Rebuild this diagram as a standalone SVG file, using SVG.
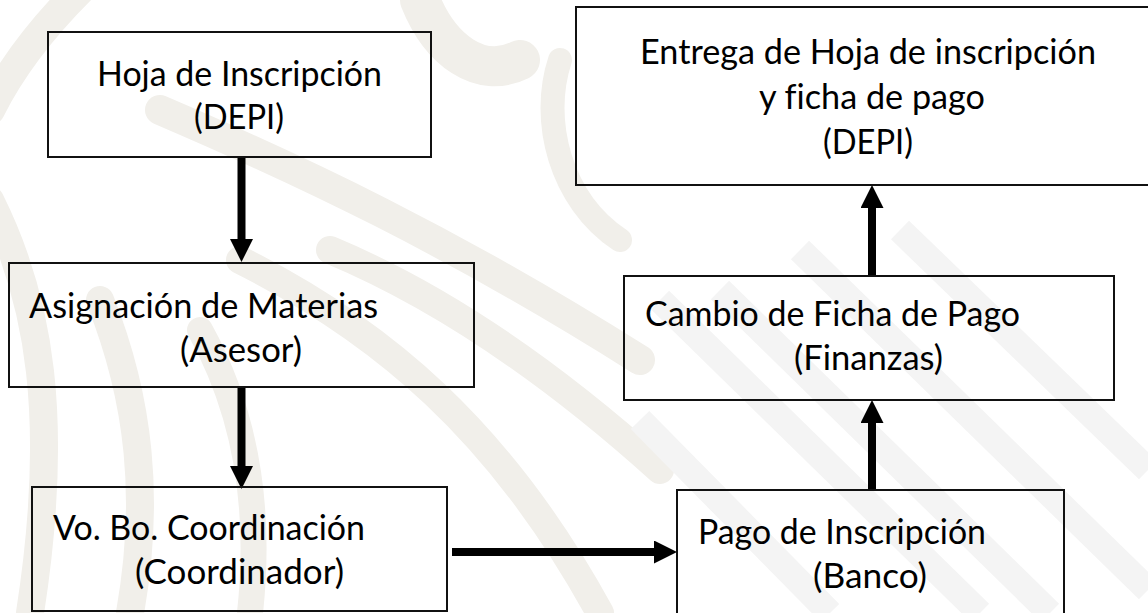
<svg xmlns="http://www.w3.org/2000/svg" width="1148" height="613" viewBox="0 0 1148 613">
<defs>
<style>
.box{fill:none;stroke:#111;stroke-width:2}
.lbl{font-family:Lato,"Open Sans","DejaVu Sans",sans-serif;font-size:34px;fill:#000;font-variant-ligatures:none}
.conn{stroke:#000;stroke-width:8;fill:none}
.wm{fill:none;stroke:#f1efea;stroke-linecap:round}
.wr{fill:none;stroke:#f4f4f4;stroke-width:26}
</style>
<marker id="ah" viewBox="0 0 23 23" refX="0" refY="11.5" markerWidth="23" markerHeight="23" markerUnits="userSpaceOnUse" orient="auto">
<path d="M0,0 L23,11.5 L0,23 Z" fill="#000"/>
</marker>
</defs>
<rect width="1148" height="613" fill="#fff"/>
<g id="watermark">
<path class="wm" stroke-width="30" d="M80,-10 C40,30 10,70 -10,110"/>
<path class="wm" stroke-width="28" d="M-10,200 C40,300 60,420 30,613"/>
<path class="wm" stroke-width="28" d="M100,300 C140,400 150,500 130,613"/>
<path class="wm" stroke-width="26" d="M200,330 C250,420 260,520 250,613"/>
<path class="wm" stroke-width="30" d="M160,110 C300,170 450,240 640,360"/>
<path class="wm" stroke-width="28" d="M240,260 C380,330 500,430 600,613"/>
<path class="wm" stroke-width="28" d="M330,250 C450,300 560,380 660,470"/>
<path class="wm" stroke-width="40" d="M420,0 C440,50 480,80 520,60"/>
<path class="wm" stroke-width="24" d="M560,60 C540,120 560,200 620,240"/>
<path class="wr" d="M660,300 L980,613"/>
<path class="wr" d="M720,290 L1050,613"/>
<path class="wr" d="M800,250 L1148,590"/>
<path class="wr" d="M640,420 L830,613"/>
<path class="wr" d="M900,230 L1148,470"/>
</g>
<g id="connectors">
<line class="conn" x1="241.5" y1="157" x2="241.5" y2="239" marker-end="url(#ah)"/>
<line class="conn" x1="241.5" y1="387" x2="241.5" y2="466" marker-end="url(#ah)"/>
<line class="conn" x1="452" y1="552" x2="654" y2="552" marker-end="url(#ah)"/>
<line class="conn" x1="872" y1="490" x2="872" y2="423" marker-end="url(#ah)"/>
<line class="conn" x1="872" y1="277" x2="872" y2="208" marker-end="url(#ah)"/>
</g>
<g id="node-hoja">
<rect class="box" x="48" y="32" width="383" height="125"/>
<text class="lbl" x="97" y="86" textLength="285" lengthAdjust="spacingAndGlyphs">Hoja de Inscripción</text>
<text class="lbl" x="194" y="129" textLength="90" lengthAdjust="spacingAndGlyphs">(DEPI)</text>
</g>
<g id="node-asignacion">
<rect class="box" x="9" y="263" width="465" height="124"/>
<text class="lbl" x="29" y="318" textLength="349" lengthAdjust="spacingAndGlyphs">Asignación de Materias</text>
<text class="lbl" x="180" y="362" textLength="122" lengthAdjust="spacingAndGlyphs">(Asesor)</text>
</g>
<g id="node-vobo">
<rect class="box" x="32" y="487" width="415" height="124"/>
<text class="lbl" x="53" y="540" textLength="312" lengthAdjust="spacingAndGlyphs">Vo. Bo. Coordinación</text>
<text class="lbl" x="135" y="584" textLength="209" lengthAdjust="spacingAndGlyphs">(Coordinador)</text>
</g>
<g id="node-pago">
<rect class="box" x="677" y="490" width="387" height="140"/>
<text class="lbl" x="698" y="544" textLength="288" lengthAdjust="spacingAndGlyphs">Pago de Inscripción</text>
<text class="lbl" x="813" y="588" textLength="114" lengthAdjust="spacingAndGlyphs">(Banco)</text>
</g>
<g id="node-cambio">
<rect class="box" x="624" y="276" width="490" height="124"/>
<text class="lbl" x="645" y="326" textLength="375" lengthAdjust="spacingAndGlyphs">Cambio de Ficha de Pago</text>
<text class="lbl" x="794" y="370" textLength="149" lengthAdjust="spacingAndGlyphs">(Finanzas)</text>
</g>
<g id="node-entrega">
<rect class="box" x="576" y="7" width="600" height="178"/>
<text class="lbl" x="640" y="64" textLength="456" lengthAdjust="spacingAndGlyphs">Entrega de Hoja de inscripción</text>
<text class="lbl" x="759" y="109" textLength="226" lengthAdjust="spacingAndGlyphs">y ficha de pago</text>
<text class="lbl" x="823" y="154" textLength="90" lengthAdjust="spacingAndGlyphs">(DEPI)</text>
</g>
</svg>
